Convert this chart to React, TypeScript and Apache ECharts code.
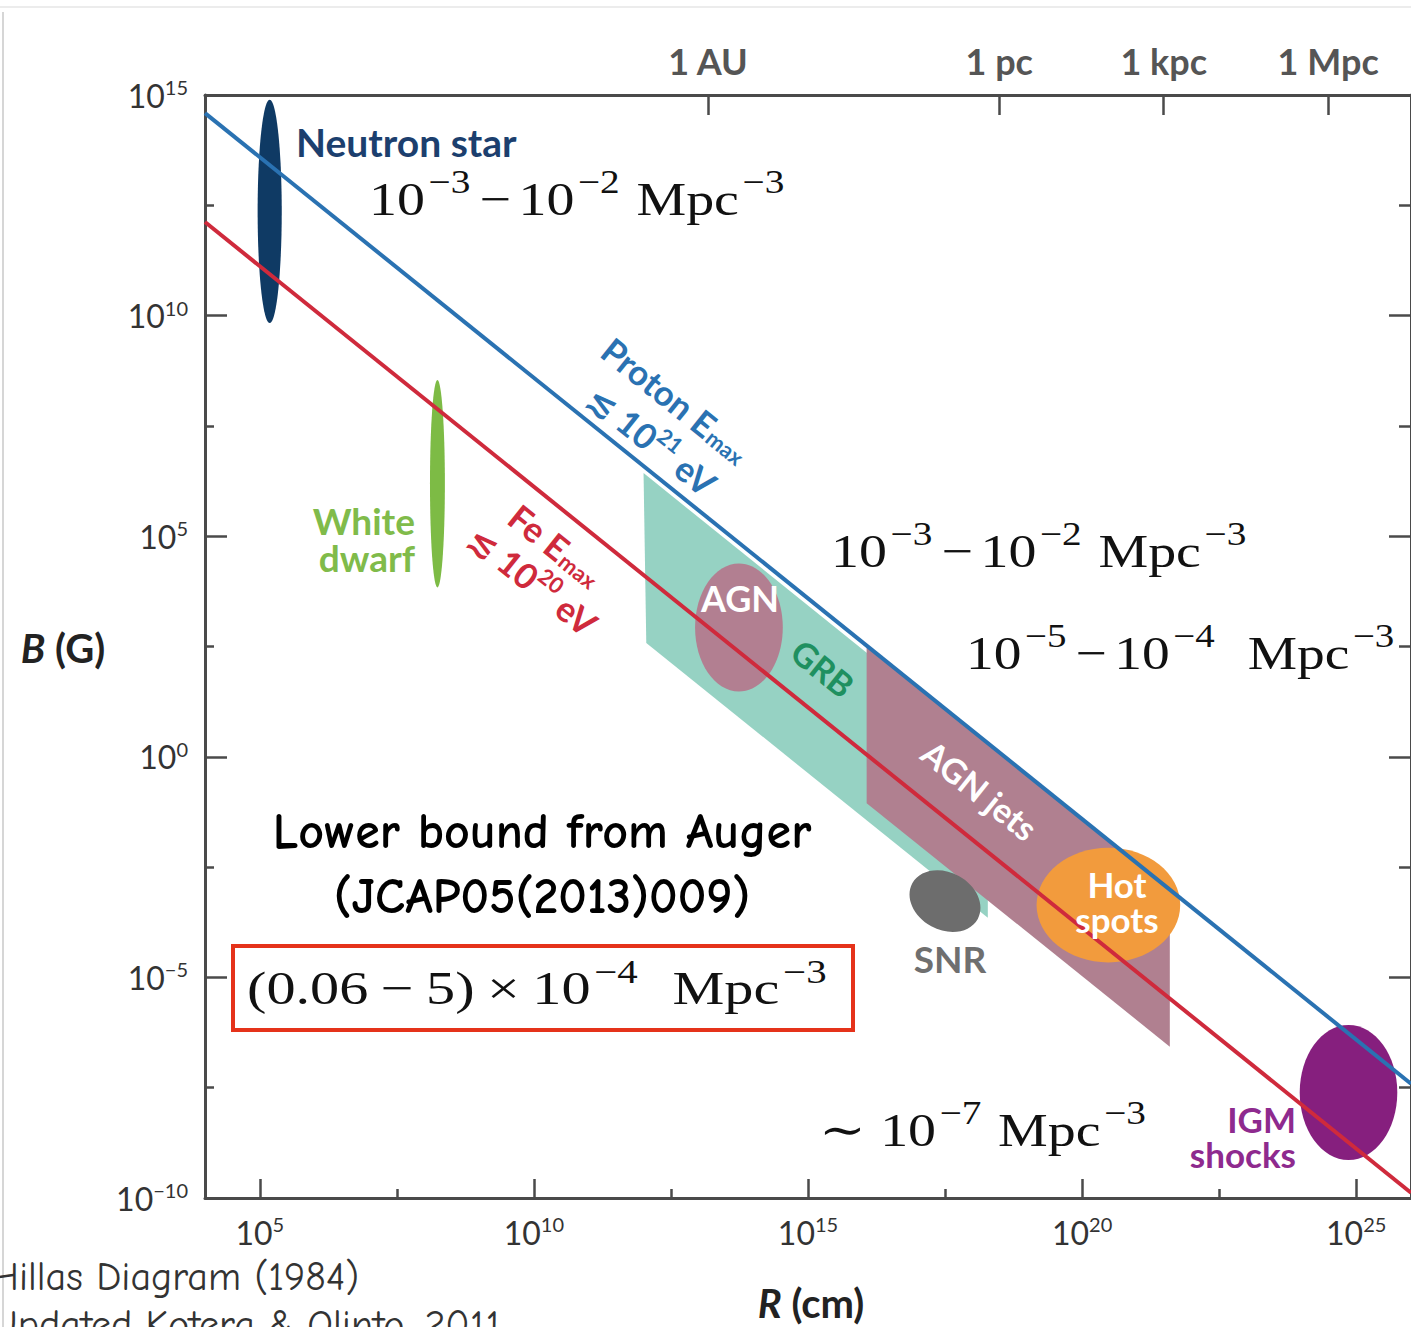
import React, { useEffect, useRef } from 'react';
import * as echarts from 'echarts';

// ---------- axis ticks (log10 values) ----------
const xMajorTicks = [5, 10, 15, 20, 25];
const xMinorTicks = [7.5, 12.5, 17.5, 22.5];
const yMajorTicks = [-10, -5, 0, 5, 10, 15];
const yMinorTicks = [-7.5, -2.5, 2.5, 7.5, 12.5];
const topTickLabels = ['1 AU', '1 pc', '1 kpc', '1 Mpc'];
const topTickLogR = [13.175, 18.489, 21.489, 24.489];

// ---------- Hillas lines: [log10 R (cm), log10 B (G)] ----------
const protonLine = [[4, 14.59], [26, -7.41]];
const ironLine = [[4, 12.12], [26, -9.88]];

// ---------- source ellipses ----------
const ellipseNames = ['Neutron star', 'White dwarf', 'AGN', 'SNR', 'Hot spots', 'IGM shocks'];
const ellipseLogR = [5.18, 8.24, 13.74, 17.5, 20.48, 24.86];
const ellipseLogB = [12.36, 6.19, 2.93, -3.27, -3.36, -7.61];
const ellipseHalfR = [0.22, 0.136, 0.8, 0.68, 1.31, 0.89];
const ellipseHalfB = [2.53, 2.35, 1.45, 0.65, 1.3, 1.53];

// ---------- source bands (polygon vertices) ----------
const bandNames = ['GRB', 'AGN jets'];
const grbBand = [[12.0, 6.43], [18.28, 0.15], [18.28, -3.65], [12.05, 2.58]];
const jetBand = [[16.07, 2.53], [21.6, -3.01], [21.6, -6.57], [16.07, -1.05]];
const bandPoints = [grbBand, jetBand];

// ---------- styles ----------
const shapeColors: Record<string, string> = {
  'Neutron star': '#0f3a64',
  'White dwarf': '#7dbb45',
  AGN: '#b27f91',
  SNR: '#6d6d6d',
  'Hot spots': '#f29b3d',
  'IGM shocks': '#861f7e',
  GRB: '#96d2c3',
  'AGN jets': '#b08090',
};
const shapeTilt: Record<string, number> = { SNR: -0.5 };

const SANS = 'Lato, "DejaVu Sans", sans-serif';
const SERIF = '"Liberation Serif", "DejaVu Serif", serif';
const HAND = '"Comic Sans MS", "Comic Neue", "DejaVu Sans", sans-serif';
const AX = '#4a4a4a';
const BLUE = '#2a72b2';
const RED = '#cf2a3c';
const ANG = -0.674;

const tickRich = {
  m: { fontFamily: SANS, fontSize: 32, lineHeight: 36, color: '#333' },
  s: { fontFamily: SANS, fontSize: 20, lineHeight: 22, verticalAlign: 'top', color: '#333' },
};
const powLabel = (v: number) => {
  const r = Math.round(v);
  return `{m|10}{s|${r < 0 ? '−' + Math.abs(r) : r}}`;
};

const mathRich = {
  n: { fontFamily: SERIF, fontSize: 47, lineHeight: 66, fill: '#111' },
  s: { fontFamily: SERIF, fontSize: 33, lineHeight: 34, verticalAlign: 'top', padding: [0, 2, 0, 3], fill: '#111' },
  d: { fontFamily: SERIF, fontSize: 47, lineHeight: 66, padding: [0, 6, 0, 6], fill: '#111' },
  D: { fontFamily: SERIF, fontSize: 47, lineHeight: 66, padding: [0, 10, 0, 10], fill: '#111' },
  t: { fontFamily: SERIF, fontSize: 47, lineHeight: 66, padding: [0, 12, 0, 0], fill: '#111' },
  m: { fontFamily: SERIF, fontSize: 47, lineHeight: 66, padding: [0, 0, 0, 12], fill: '#111' },
  mm: { fontFamily: SERIF, fontSize: 47, lineHeight: 66, padding: [0, 0, 0, 26], fill: '#111' },
};

function mathText(x: number, y: number, text: string, scaleX: number, bg = false) {
  return {
    type: 'text',
    x,
    y,
    scaleX,
    z: 100,
    style: {
      text,
      rich: mathRich,
      align: 'left',
      verticalAlign: 'middle',
      backgroundColor: bg ? '#fff' : undefined,
    },
  };
}

function label(
  x: number,
  y: number,
  text: string,
  color: string,
  size = 38,
  align = 'center',
  rotation = 0,
  rich?: any,
  lineHeight?: number
) {
  return {
    type: 'text',
    x,
    y,
    rotation,
    z: 100,
    style: {
      text,
      fill: color,
      fontFamily: SANS,
      fontWeight: 'bold',
      fontSize: size,
      lineHeight,
      align,
      verticalAlign: 'middle',
      rich,
    },
  };
}

const subRich = (color: string) => ({
  a: { fontFamily: SANS, fontWeight: 'bold', fontSize: 35, lineHeight: 35, verticalAlign: 'top', fill: color },
  b: { fontFamily: SANS, fontWeight: 'bold', fontSize: 22, lineHeight: 22, verticalAlign: 'bottom', padding: [14, 0, 0, 1], fill: color },
});
const supRich = (color: string) => ({
  a: { fontFamily: SANS, fontWeight: 'bold', fontSize: 35, lineHeight: 44, fill: color },
  s: { fontFamily: SANS, fontWeight: 'bold', fontSize: 22, lineHeight: 24, verticalAlign: 'top', fill: color },
});

const axisNameRich = {
  i: { fontFamily: SANS, fontWeight: 'bold', fontStyle: 'italic', fontSize: 40, fill: '#222' },
  r: { fontFamily: SANS, fontWeight: 'bold', fontSize: 40, fill: '#222' },
};

export default function App() {
  const ref = useRef<HTMLDivElement>(null);

  useEffect(() => {
    if (!ref.current) return;
    const chart = echarts.init(ref.current, undefined, { renderer: 'svg' });

    const lineStyle = { color: AX, width: 2.5 };
    const baseX = { type: 'value', min: 4, max: 26, splitLine: { show: false } };
    const baseY = { type: 'value', min: -10, max: 15, splitLine: { show: false } };

    const option: any = {
      animation: false,
      backgroundColor: '#fff',
      grid: { left: 205, top: 95, width: 1212, height: 1103 },
      xAxis: [
        {
          ...baseX,
          position: 'bottom',
          axisLine: { onZero: false, lineStyle: { color: AX, width: 3 } },
          axisTick: { inside: true, length: 19, customValues: xMajorTicks, lineStyle },
          axisLabel: { customValues: xMajorTicks, formatter: powLabel, rich: tickRich, margin: 16 },
        },
        {
          ...baseX,
          position: 'bottom',
          axisLine: { show: false, onZero: false },
          axisTick: { inside: true, length: 9, customValues: xMinorTicks, lineStyle },
          axisLabel: { show: false },
        },
        {
          ...baseX,
          position: 'top',
          axisLine: { onZero: false, lineStyle: { color: AX, width: 3 } },
          axisTick: { inside: true, length: 20, customValues: topTickLogR, lineStyle },
          axisLabel: {
            customValues: topTickLogR,
            formatter: (v: number) => {
              const i = topTickLogR.findIndex((t) => Math.abs(t - v) < 1e-6);
              return i >= 0 ? topTickLabels[i] : '';
            },
            fontFamily: SANS,
            fontWeight: 'bold',
            fontSize: 36,
            color: '#555',
            margin: 16,
          },
        },
      ],
      yAxis: [
        {
          ...baseY,
          position: 'left',
          axisLine: { onZero: false, lineStyle: { color: AX, width: 3 } },
          axisTick: { inside: true, length: 22, customValues: yMajorTicks, lineStyle },
          axisLabel: { customValues: yMajorTicks, formatter: powLabel, rich: tickRich, margin: 17 },
        },
        {
          ...baseY,
          position: 'left',
          axisLine: { show: false, onZero: false },
          axisTick: { inside: true, length: 9, customValues: yMinorTicks, lineStyle },
          axisLabel: { show: false },
        },
        {
          ...baseY,
          position: 'right',
          axisLine: { onZero: false, lineStyle: { color: AX, width: 3 } },
          axisTick: { inside: true, length: 22, customValues: yMajorTicks, lineStyle },
          axisLabel: { show: false },
        },
        {
          ...baseY,
          position: 'right',
          axisLine: { show: false, onZero: false },
          axisTick: { inside: true, length: 12, customValues: yMinorTicks, lineStyle },
          axisLabel: { show: false },
        },
      ],
      series: [
        {
          type: 'custom',
          name: 'bands',
          z: 2,
          xAxisIndex: 0,
          yAxisIndex: 0,
          data: bandPoints.map((p) => p[0]),
          renderItem: (params: any, api: any) => {
            const pts = bandPoints[params.dataIndex].map((p) => api.coord(p));
            return {
              type: 'polygon',
              shape: { points: pts },
              style: { fill: shapeColors[bandNames[params.dataIndex]] },
            };
          },
        },
        {
          type: 'custom',
          name: 'sources',
          z: 3,
          xAxisIndex: 0,
          yAxisIndex: 0,
          data: ellipseLogR.map((r, i) => [r, ellipseLogB[i], ellipseHalfR[i], ellipseHalfB[i]]),
          renderItem: (params: any, api: any) => {
            const name = ellipseNames[params.dataIndex];
            const c = api.coord([api.value(0), api.value(1)]);
            const s = api.size([api.value(2), api.value(3)]);
            return {
              type: 'ellipse',
              x: c[0],
              y: c[1],
              rotation: shapeTilt[name] || 0,
              shape: { cx: 0, cy: 0, rx: s[0], ry: s[1] },
              style: { fill: shapeColors[name] },
            };
          },
        },
        {
          type: 'line',
          name: 'Proton',
          z: 5,
          xAxisIndex: 0,
          yAxisIndex: 0,
          data: protonLine,
          symbol: 'none',
          lineStyle: { color: BLUE, width: 4 },
        },
        {
          type: 'line',
          name: 'Fe',
          z: 5,
          xAxisIndex: 0,
          yAxisIndex: 0,
          data: ironLine,
          symbol: 'none',
          lineStyle: { color: RED, width: 4 },
        },
      ],
      graphic: [
        { type: 'line', z: 1, shape: { x1: 0, y1: 7, x2: 1411, y2: 7 }, style: { stroke: '#ececec', lineWidth: 2 } },
        { type: 'line', z: 1, shape: { x1: 3, y1: 12, x2: 3, y2: 1327 }, style: { stroke: '#d6d6d6', lineWidth: 2 } },
        // axis names
        {
          type: 'text', x: 63, y: 648, z: 100,
          style: { text: '{i|B}{r| (G)}', align: 'center', verticalAlign: 'middle', rich: axisNameRich },
        },
        {
          type: 'text', x: 811, y: 1303, z: 100,
          style: { text: '{i|R}{r| (cm)}', align: 'center', verticalAlign: 'middle', rich: axisNameRich },
        },
        // source labels
        label(296, 142, 'Neutron star', '#1c3f6e', 39, 'left'),
        label(415, 539, 'White\ndwarf', '#80bb4a', 37, 'right', 0, undefined, 37),
        label(740, 598, 'AGN', '#ffffff', 36),
        label(823, 668, 'GRB', '#1f9060', 34, 'center', ANG),
        label(980, 790, 'AGN jets', '#ffffff', 34, 'center', ANG),
        label(1117, 901, 'Hot\nspots', '#ffffff', 35, 'center', 0, undefined, 35),
        label(950, 958, 'SNR', '#6f6f6f', 37),
        label(1296, 1136, 'IGM\nshocks', '#8e2a8e', 35, 'right', 0, undefined, 35),
        // Hillas-line labels
        label(676, 400, '{a|Proton E}{b|max}', BLUE, 35, 'center', ANG, subRich(BLUE)),
        label(652, 440, '{a|≲ 10}{s|21}{a| eV}', BLUE, 35, 'center', ANG, supRich(BLUE)),
        label(556, 545, '{a|Fe E}{b|max}', RED, 35, 'center', ANG, subRich(RED)),
        label(533, 580, '{a|≲ 10}{s|20}{a| eV}', RED, 35, 'center', ANG, supRich(RED)),
        // density annotations
        mathText(369, 199, '{n|10}{s|−3}{d|−}{n|10}{s|−2}{m|Mpc}{s|−3}', 1.19, true),
        mathText(831, 551, '{n|10}{s|−3}{d|−}{n|10}{s|−2}{m|Mpc}{s|−3}', 1.19, true),
        mathText(966, 653, '{n|10}{s|−5}{d|−}{n|10}{s|−4}{mm|Mpc}{s|−3}', 1.18, true),
        mathText(819, 1130, '{t|∼}{n|10}{s|−7}{m|Mpc}{s|−3}', 1.19, true),
        // Auger box
        {
          type: 'rect', z: 99,
          shape: { x: 233, y: 946, width: 620, height: 84 },
          style: { fill: '#fff', stroke: '#e5321a', lineWidth: 4 },
        },
        mathText(247, 988, '{n|(0.06}{D|−}{n|5)}{D|×}{n|10}{s|−4}{mm|Mpc}{s|−3}', 1.24),
        {
          type: 'text', x: 542, y: 832, z: 100,
          style: { text: 'Lower bound from Auger', fontFamily: HAND, fontWeight: 'bold', fontSize: 50, fill: '#000', align: 'center', verticalAlign: 'middle' },
        },
        {
          type: 'text', x: 542, y: 897, z: 100,
          style: { text: '(JCAP05(2013)009)', fontFamily: HAND, fontWeight: 'bold', fontSize: 50, fill: '#000', align: 'center', verticalAlign: 'middle' },
        },
        {
          type: 'text', x: -10, y: 1277, z: 100,
          style: { text: 'Hillas Diagram (1984)', fontFamily: HAND, fontSize: 40, fill: '#333', align: 'left', verticalAlign: 'middle' },
        },
        {
          type: 'text', x: -10, y: 1325, z: 100,
          style: { text: 'Updated Kotera & Olinto, 2011', fontFamily: HAND, fontSize: 40, fill: '#333', align: 'left', verticalAlign: 'middle' },
        },
      ],
    };

    chart.setOption(option);
    return () => chart.dispose();
  }, []);

  return (
    <div
      ref={ref}
      style={{ position: 'absolute', left: 0, top: 0, width: 1411, height: 1327, overflow: 'hidden' }}
    />
  );
}
